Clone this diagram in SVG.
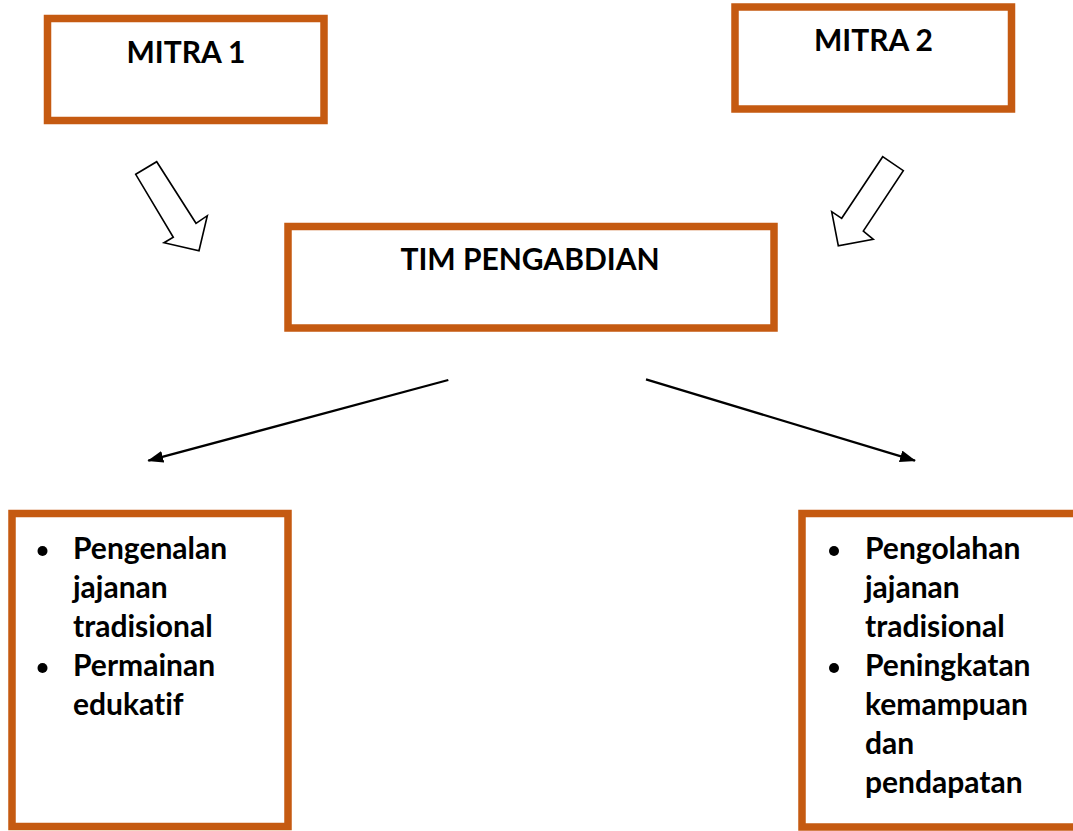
<svg xmlns="http://www.w3.org/2000/svg" width="1073" height="831" viewBox="0 0 1073 831">
<defs>
<style>
.box{fill:#fff;stroke:#C55A11;stroke-width:7.5}
.t{font-family:Lato,"Open Sans","Liberation Sans",sans-serif;font-weight:bold;font-size:30px;fill:#000;font-variant-ligatures:none}
.blk{fill:#fff;stroke:#000;stroke-width:1.6;stroke-linejoin:miter}
.ln{stroke:#000;stroke-width:2.3;fill:none}
</style>
<marker id="ah" viewBox="0 0 16 12" refX="15" refY="6" markerWidth="16" markerHeight="12" markerUnits="userSpaceOnUse" orient="auto">
<path d="M0,0 L16,6 L0,12 Z" fill="#000"/>
</marker>
</defs>
<rect width="1073" height="831" fill="#fff"/>
<g id="mitra1">
<rect class="box" x="47.5" y="18.5" width="276.5" height="102"/>
<text class="t" x="186" y="63" text-anchor="middle">MITRA 1</text>
</g>
<g id="mitra2">
<rect class="box" x="735" y="7" width="276.5" height="102"/>
<text class="t" x="873.5" y="51" text-anchor="middle">MITRA 2</text>
</g>
<g id="tim">
<rect class="box" x="288" y="226.5" width="486" height="101.5"/>
<text class="t" x="530" y="270" text-anchor="middle">TIM PENGABDIAN</text>
</g>
<g id="kiri">
<rect class="box" x="12" y="513.5" width="276" height="313"/>
<circle cx="42.5" cy="551" r="5"/>
<circle cx="42.5" cy="668" r="5"/>
<text class="t" x="73" y="559">Pengenalan</text>
<text class="t" x="73" y="598">jajanan</text>
<text class="t" x="73" y="637">tradisional</text>
<text class="t" x="73" y="676">Permainan</text>
<text class="t" x="73" y="715">edukatif</text>
</g>
<g id="kanan">
<rect class="box" x="802" y="513.5" width="280" height="313.5"/>
<circle cx="834" cy="551" r="5"/>
<circle cx="834" cy="668" r="5"/>
<text class="t" x="865" y="559">Pengolahan</text>
<text class="t" x="865" y="598">jajanan</text>
<text class="t" x="865" y="637">tradisional</text>
<text class="t" x="865" y="676">Peningkatan</text>
<text class="t" x="865" y="715">kemampuan</text>
<text class="t" x="865" y="754">dan</text>
<text class="t" x="865" y="793">pendapatan</text>
</g>
<g id="connectors">
<polygon class="blk" points="135.7,174.3 156.7,161.7 196,223.3 207.3,215.7 199,250.7 164,242.7 173.3,237.3"/>
<polygon class="blk" points="882.7,156.7 903.3,170.7 863.3,231 873.3,239.3 838.3,245.7 831.7,211.7 841.7,218.3"/>
<line class="ln" x1="448.3" y1="380" x2="148.3" y2="460.7" marker-end="url(#ah)"/>
<line class="ln" x1="646" y1="379.3" x2="915" y2="460.7" marker-end="url(#ah)"/>
</g>
</svg>
